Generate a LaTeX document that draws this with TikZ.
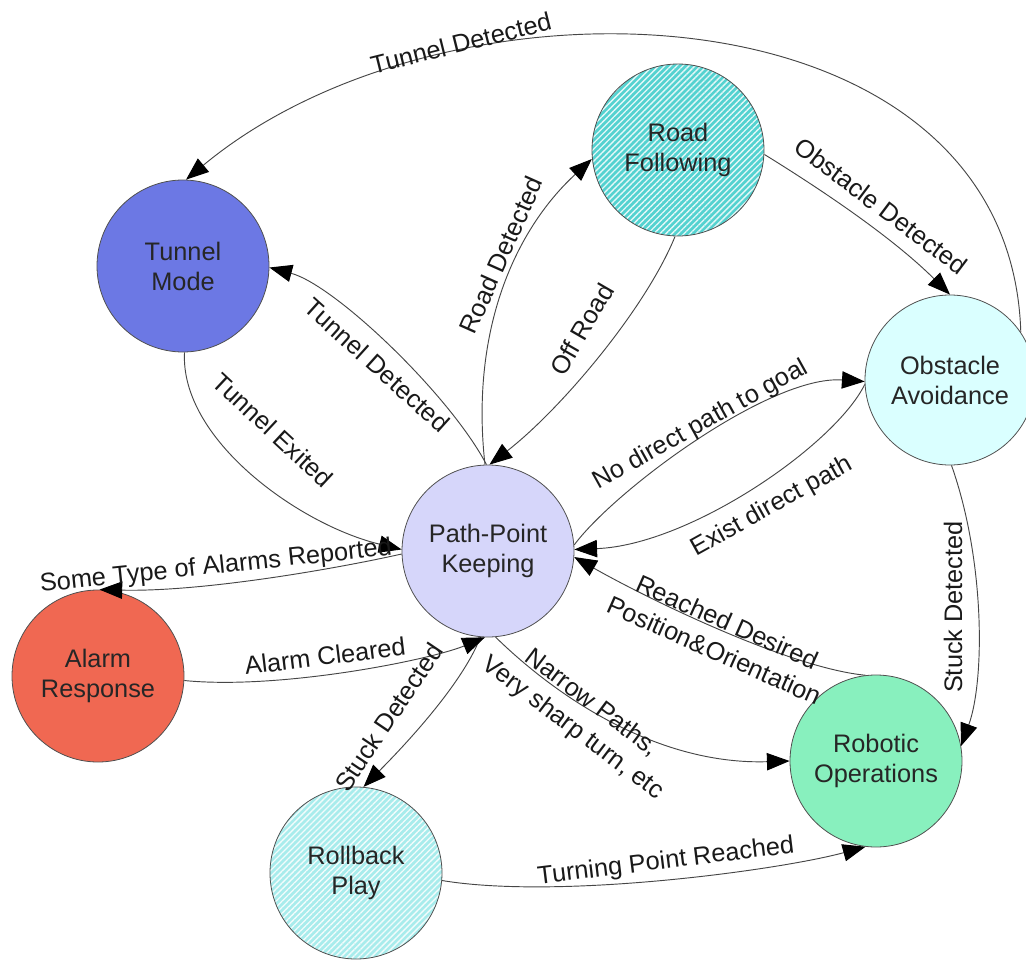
\documentclass[tikz,border=0pt]{standalone}
\usepackage{fontspec}
\setmainfont{Liberation Sans}
\usetikzlibrary{arrows.meta,patterns.meta}
\definecolor{tmcol}{RGB}{108,120,228}
\definecolor{rfcol}{RGB}{84,210,208}
\definecolor{oacol}{RGB}{218,255,255}
\definecolor{ppkcol}{RGB}{214,214,250}
\definecolor{arcol}{RGB}{240,104,82}
\definecolor{rocol}{RGB}{136,240,190}
\definecolor{rbcol}{RGB}{168,236,236}
\definecolor{edgecol}{RGB}{70,70,70}
\definecolor{rimcol}{RGB}{80,80,80}
\begin{document}
\begin{tikzpicture}[x=0.75pt,y=-0.75pt,
 stnode/.style={circle, draw=rimcol, line width=0.6pt, minimum size=129pt, inner sep=0pt, align=center, font=\fontsize{19}{22.5}\selectfont, text=black!85},
 hatched/.style={preaction={fill=#1}, pattern={Lines[angle=45,distance=3.2pt,line width=1pt]}, pattern color=white!85!#1},
 conn/.style={draw=edgecol, line width=0.7pt, -{Triangle[length=17pt,width=13pt,color=black]}},
 lbl/.style={font=\fontsize{19}{23.5}\selectfont, align=center, inner sep=0pt, text=black!90}]
\useasboundingbox (0,0) rectangle (1026,960);
% states
\node[stnode, fill=tmcol] (tm) at (183,266) {Tunnel\\Mode};
\node[stnode, hatched=rfcol] (rf) at (678,150) {Road\\Following};
\node[stnode, fill=oacol, minimum size=127.5pt] (oa) at (950,380) {Obstacle\\Avoidance};
\node[stnode, fill=ppkcol] (ppk) at (488,551) {Path-Point\\Keeping};
\node[stnode, fill=arcol] (ar) at (98,676) {Alarm\\Response};
\node[stnode, fill=rocol] (ro) at (876,761) {Robotic\\Operations};
\node[stnode, hatched=rbcol] (rb) at (356,873) {Rollback\\Play};
% transitions
\draw[conn] (oa.34) .. controls (1010,-20) and (450,-40) .. (tm.88);
\draw[conn] (ppk.91) .. controls (450,395) and (335,285) .. (tm.-1);
\draw[conn] (ppk.92) .. controls (470,330) and (515,230) .. (rf.186);
\draw[conn] (rf.-92) .. controls (645,310) and (560,410) .. (ppk.89);
\draw[conn] (rf.-3) .. controls (830,195) and (895,240) .. (oa.90);
\draw[conn] (ppk.4) .. controls (615,490) and (770,375) .. (oa.181);
\draw[conn] (oa.183) .. controls (835,445) and (690,545) .. (ppk.1);
\draw[conn] (oa.-89) .. controls (985,560) and (985,680) .. (ro.10);
\draw[conn] (ro.97) .. controls (790,668) and (650,600) .. (ppk.-4);
\draw[conn] (ppk.-85) .. controls (560,700) and (660,765) .. (ro.180);
\draw[conn] (ppk.-95) .. controls (460,690) and (390,760) .. (rb.85);
\draw[conn] (rb.-5) .. controls (560,900) and (780,870) .. (ro.-97);
\draw[conn] (ar.-3) .. controls (280,690) and (430,660) .. (ppk.-92);
\draw[conn] (ppk.182) .. controls (330,570) and (200,592) .. (ar.89);
\draw[conn] (tm.-89) .. controls (180,440) and (300,525) .. (ppk.179);
% labels
\node[lbl, rotate=14] (l1) at (461,43) {Tunnel Detected};
\node[lbl, rotate=-42] (l2) at (377,365) {Tunnel Detected};
\node[lbl, rotate=66] (l3) at (501,255) {Road Detected};
\node[lbl, rotate=60] (l4) at (582,329) {Off Road};
\node[lbl, rotate=-37] (l5) at (881,206) {Obstacle Detected};
\node[lbl, rotate=29] (l6) at (701,425) {No direct path to goal};
\node[lbl, rotate=29] (l7) at (772,507) {Exist direct path};
\node[lbl, rotate=90] (l8) at (953,607) {Stuck Detected};
\node[lbl, rotate=-24] (l9) at (721,636) {Reached Desired\\Position\&Orientation};
\node[lbl, rotate=-37] (l10) at (582,716) {Narrow Paths,\\Very sharp turn, etc};
\node[lbl, rotate=56] (l11) at (389,717) {Stuck Detected};
\node[lbl, rotate=7] (l12) at (666,862) {Turning Point Reached};
\node[lbl, rotate=7] (l13) at (325,656) {Alarm Cleared};
\node[lbl, rotate=6] (l14) at (216,567) {Some Type of Alarms Reported};
\node[lbl, rotate=-43] (l15) at (273,430) {Tunnel Exited};
\end{tikzpicture}
\end{document}
